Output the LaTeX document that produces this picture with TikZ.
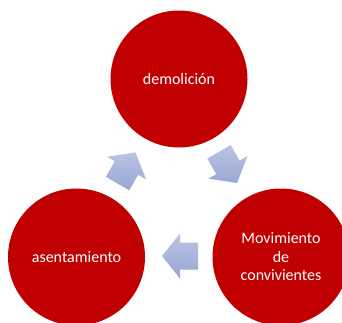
\documentclass[tikz,border=0pt]{standalone}
\usepackage{fontspec}
\setmainfont{Carlito}
\definecolor{cred}{RGB}{192,0,0}
\definecolor{atop}{RGB}{186,196,228}
\definecolor{abot}{RGB}{152,167,209}
\tikzset{
  bubble/.style={circle, fill=cred, minimum size=137pt, inner sep=0pt, text=white,
    align=center, font=\fontsize{16}{18.5}\selectfont},
  cyclearrow/.style={top color=atop, bottom color=abot, draw=none}
}
\begin{document}
\begin{tikzpicture}[x=1pt,y=-1pt]
\clip (0,0) rectangle (342,322);
\fill[white] (0,0) rectangle (342,322);
\node[bubble] (demo) at (179,79) {demolición};
\node[bubble] (mov) at (281,257) {Movimiento\\de\\convivientes};
\node[bubble] (asen) at (76.5,257) {asentamiento};
% arrow demolición -> movimiento
\path[cyclearrow] (230.7,145.06) -- (239.7,160.65) -- (247.5,156.15) -- (237,183)
  -- (208.5,178.65) -- (216.3,174.15) -- (207.3,158.56) -- cycle;
% arrow movimiento -> asentamiento
\path[cyclearrow] (198,242.5) -- (180,242.5) -- (180,233.5) -- (162,256)
  -- (180,278.5) -- (180,269.5) -- (198,269.5) -- cycle;
% arrow asentamiento -> demolición
\path[cyclearrow] (129.2,190.3) -- (138.2,174.75) -- (146.0,179.25) -- (135.5,152.4)
  -- (107.0,156.75) -- (114.8,161.25) -- (105.8,176.8) -- cycle;
\end{tikzpicture}
\end{document}
